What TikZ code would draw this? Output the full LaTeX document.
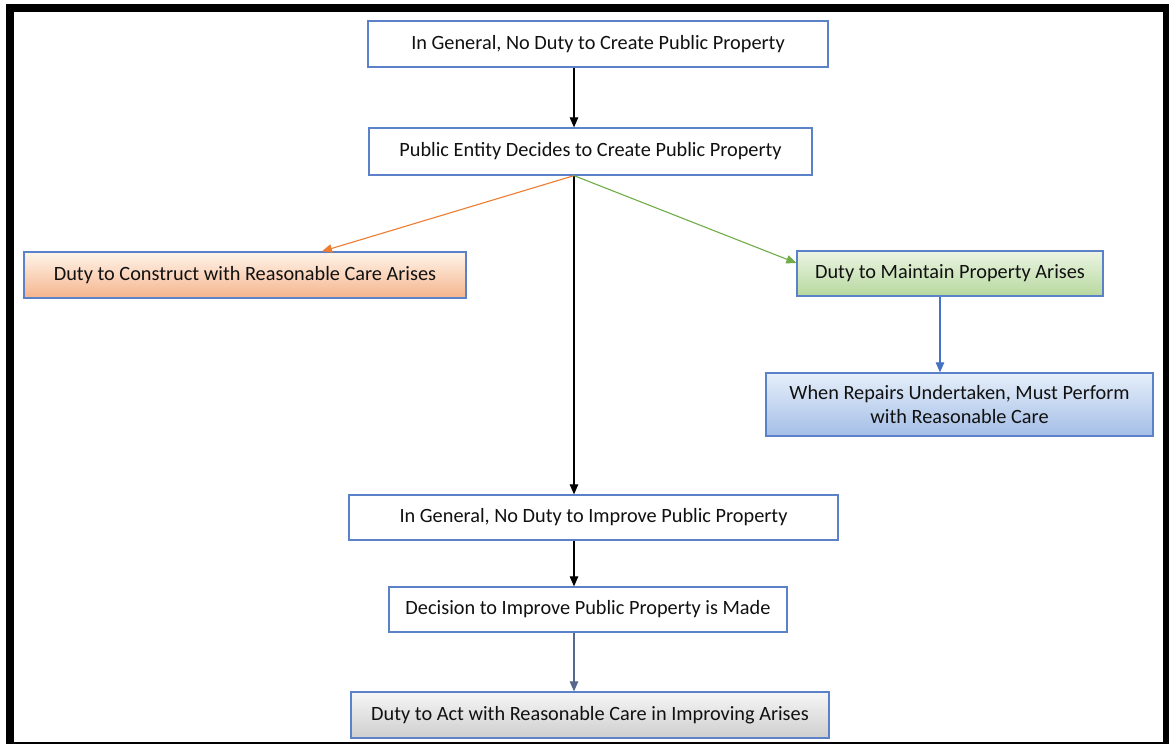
\documentclass[tikz,border=0pt]{standalone}
\usepackage{fontspec}
\setmainfont{Carlito}
\usetikzlibrary{arrows.meta}
\definecolor{bordblue}{HTML}{5B82C9}
\definecolor{textc}{HTML}{111111}
\definecolor{arrorange}{HTML}{ED7D31}
\definecolor{arrgreen}{HTML}{70AD47}
\definecolor{arrblue}{HTML}{4472C4}
\definecolor{arrslate}{HTML}{56698C}
\begin{document}
\begin{tikzpicture}[x=1pt,y=-1pt,
  box/.style={draw=bordblue, line width=1.3pt, fill=white, rectangle, inner sep=0pt,
    font=\fontsize{20.3}{24}\selectfont, text=textc, align=center},
  arr/.style={-{Triangle[length=10pt,width=8.5pt]}, line width=1.1pt}]
\useasboundingbox (0,0) rectangle (1169,744);
% frame
\fill[black] (6,4) rectangle (1169,744);
\fill[white] (14,12) rectangle (1163,741.5);
% nodes
\node[box, minimum width=460pt, minimum height=46pt] (b1) at (598,44) {In General, No Duty to Create Public Property};
\node[box, minimum width=443pt, minimum height=47pt] (b2) at (590.5,151.5) {Public Entity Decides to Create Public Property};
\node[box, minimum width=442pt, minimum height=46pt, top color=orange!8!white, bottom color={rgb,255:red,245;green,180;blue,140}, draw=bordblue] (b3) at (245,275) {Duty to Construct with Reasonable Care Arises};
\node[box, minimum width=306pt, minimum height=45pt, top color={rgb,255:red,236;green,245;blue,228}, bottom color={rgb,255:red,182;green,216;blue,158}, draw=bordblue] (b4) at (950,273.5) {Duty to Maintain Property Arises};
\node[box, minimum width=387pt, minimum height=63pt, top color={rgb,255:red,230;green,239;blue,250}, bottom color={rgb,255:red,164;green,190;blue,230}, draw=bordblue] (b5) at (959.5,404.5) {When Repairs Undertaken, Must Perform\\with Reasonable Care};
\node[box, minimum width=489pt, minimum height=45pt] (b6) at (593.5,517.5) {In General, No Duty to Improve Public Property};
\node[box, minimum width=398pt, minimum height=45pt] (b7) at (588,609.5) {Decision to Improve Public Property is Made};
\node[box, minimum width=478pt, minimum height=46pt, top color={rgb,255:red,246;green,246;blue,246}, bottom color={rgb,255:red,206;green,206;blue,206}, draw=bordblue] (b8) at (590,715) {Duty to Act with Reasonable Care in Improving Arises};
% helper coordinates
\coordinate (mx) at (574,0);
\coordinate (ox) at (322,0);
\coordinate (gy) at (0,263);
\coordinate (bx) at (940,0);
% connectors
\draw[arr, black] (b1.south -| mx) -- (b2.north -| mx);
\draw[arr, black] (b2.south -| mx) -- (b6.north -| mx);
\draw[arr, arrorange] (b2.south -| mx) -- (b3.north -| ox);
\draw[arr, arrgreen] (b2.south -| mx) -- (b4.west |- gy);
\draw[arr, arrblue] (b4.south -| bx) -- (b5.north -| bx);
\draw[arr, black] (b6.south -| mx) -- (b7.north -| mx);
\draw[arr, arrslate] (b7.south -| mx) -- (b8.north -| mx);
\end{tikzpicture}
\end{document}
